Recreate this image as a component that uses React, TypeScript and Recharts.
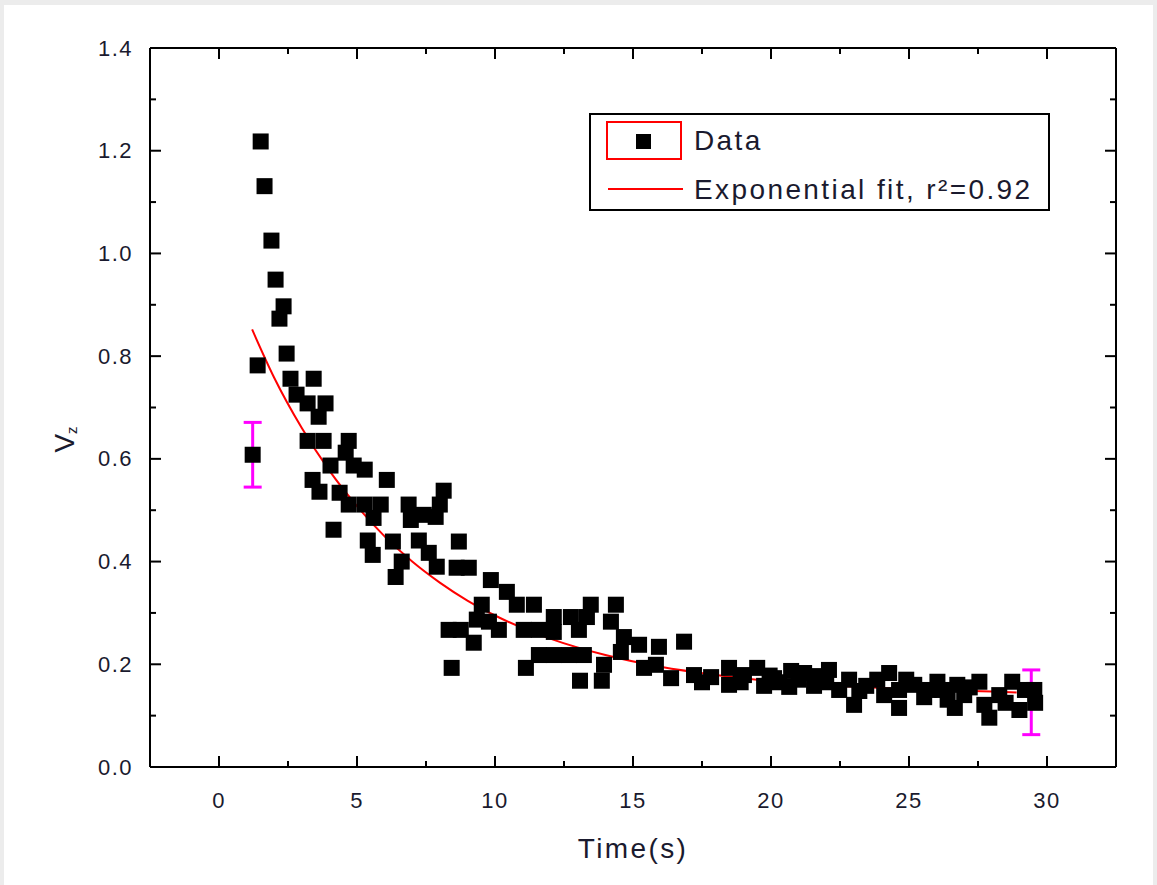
import { ComposedChart, Scatter, Line, XAxis, YAxis, ErrorBar, Legend, Label } from 'recharts';

const dataTime = [
  1.22, 1.40, 1.51, 1.65, 1.90, 2.05, 2.19, 2.34, 2.45, 2.59, 2.81, 3.21, 3.21, 3.39, 3.43, 3.61, 3.64, 3.79, 3.86,
  4.04, 4.15, 4.37, 4.59, 4.70, 4.70, 4.88, 5.28, 5.28, 5.39, 5.57, 5.60, 5.86, 6.08, 6.30, 6.40, 6.62, 6.87, 6.95,
  7.24, 7.42, 7.60, 7.85, 7.89, 8.00, 8.14, 8.32, 8.43, 8.61, 8.69, 8.76, 9.05, 9.23, 9.34, 9.52, 9.78, 9.85,
  10.14, 10.43, 10.79, 11.04, 11.12, 11.41, 11.59, 11.59, 12.13, 12.13, 12.13, 12.68, 12.75, 13.04, 13.08, 13.22,
  13.33, 13.47, 13.87, 13.95, 14.20, 14.38, 14.56, 14.67, 15.22, 15.40, 15.83, 15.94, 16.38, 16.85, 17.21, 17.50,
  17.83, 18.48, 18.48, 18.90, 19.02, 19.50, 19.75, 19.95, 20.11, 20.30, 20.66, 20.73, 21.00, 21.20, 21.56, 21.74,
  22.00, 22.10, 22.47, 22.83, 23.01, 23.20, 23.45, 23.85, 24.10, 24.28, 24.64, 24.64, 24.90, 25.19, 25.55, 25.73,
  26.03, 26.20, 26.40, 26.66, 26.75, 27.00, 27.20, 27.55, 27.73, 27.91, 28.27, 28.50, 28.74, 29.00, 29.20, 29.54,
  29.57,
];
const dataVz = [
  0.608, 0.782, 1.218, 1.131, 1.025, 0.949, 0.873, 0.897, 0.805, 0.756, 0.725, 0.708, 0.635, 0.559, 0.756, 0.682, 0.536, 0.635, 0.708,
  0.587, 0.462, 0.534, 0.612, 0.635, 0.511, 0.587, 0.579, 0.511, 0.441, 0.413, 0.485, 0.511, 0.559, 0.439, 0.370, 0.400, 0.511, 0.481,
  0.441, 0.491, 0.417, 0.487, 0.390, 0.511, 0.538, 0.267, 0.193, 0.388, 0.439, 0.267, 0.388, 0.242, 0.287, 0.316, 0.283, 0.364,
  0.267, 0.341, 0.316, 0.267, 0.193, 0.316, 0.267, 0.218, 0.292, 0.263, 0.218, 0.218, 0.292, 0.267, 0.168, 0.218,
  0.292, 0.316, 0.168, 0.199, 0.283, 0.316, 0.224, 0.253, 0.238, 0.193, 0.199, 0.234, 0.173, 0.244, 0.179, 0.165,
  0.175, 0.193, 0.160, 0.165, 0.179, 0.193, 0.158, 0.178, 0.173, 0.165, 0.156, 0.187, 0.170, 0.183, 0.158, 0.177,
  0.165, 0.189, 0.150, 0.170, 0.121, 0.148, 0.158, 0.170, 0.140, 0.183, 0.150, 0.115, 0.170, 0.160, 0.136, 0.150,
  0.166, 0.150, 0.131, 0.115, 0.160, 0.140, 0.155, 0.166, 0.121, 0.096, 0.140, 0.125, 0.166, 0.111, 0.150, 0.150,
  0.125,
];

// exponential fit curve
const fitTime = [1.2, 2, 3, 4, 5, 6, 7, 8, 9, 10, 12, 14, 16, 18, 20, 22, 24, 26, 28, 28.9];
const fitVz = [0.852, 0.758, 0.660, 0.577, 0.508, 0.449, 0.400, 0.359, 0.324, 0.295, 0.250, 0.218, 0.195, 0.179, 0.167, 0.159, 0.154, 0.150, 0.147, 0.145];

// magenta markers (data reader)
const markerTime = [1.22, 29.43];
const markerVz = [0.608, 0.126];
const markerErr = [0.063, 0.063];

const xTicks = [0, 2.5, 5, 7.5, 10, 12.5, 15, 17.5, 20, 22.5, 25, 27.5, 30];
const yTicks = [0, 0.1, 0.2, 0.3, 0.4, 0.5, 0.6, 0.7, 0.8, 0.9, 1.0, 1.1, 1.2, 1.3, 1.4];

const scatterData = dataTime.map((t, i) => ({ t, v: dataVz[i] }));
const fitData = fitTime.map((t, i) => ({ t, v: fitVz[i] }));
const markerData = markerTime.map((t, i) => ({ t, v: markerVz[i], err: markerErr[i] }));

const FONT = '"Liberation Sans", Arial, sans-serif';
const TXT = '#1a1a2e';

const isMajorX = (v: number) => Math.abs(v % 5) < 1e-6;
const isMajorY = (v: number) => Math.round(v * 10) % 2 === 0;

const BottomTick = (props: any) => {
  const { x, y, payload } = props;
  const major = isMajorX(payload.value);
  return (
    <g>
      <line x1={x} y1={y} x2={x} y2={y - (major ? 11 : 6)} stroke="#000" strokeWidth={2} />
      {major && (
        <text x={x} y={y + 33} textAnchor="middle" dominantBaseline="central" fontFamily={FONT} fontSize={22} letterSpacing={1.5} fill={TXT}>
          {payload.value}
        </text>
      )}
    </g>
  );
};

const TopTick = (props: any) => {
  const { x, y, payload } = props;
  const major = isMajorX(payload.value);
  return <line x1={x} y1={y} x2={x} y2={y + (major ? 11 : 6)} stroke="#000" strokeWidth={2} />;
};

const LeftTick = (props: any) => {
  const { x, y, payload } = props;
  const major = isMajorY(payload.value);
  return (
    <g>
      <line x1={x} y1={y} x2={x + (major ? 11 : 6)} y2={y} stroke="#000" strokeWidth={2} />
      {major && (
        <text x={x - 17} y={y} textAnchor="end" dominantBaseline="central" fontFamily={FONT} fontSize={22} letterSpacing={1.5} fill={TXT}>
          {payload.value.toFixed(1)}
        </text>
      )}
    </g>
  );
};

const RightTick = (props: any) => {
  const { x, y, payload } = props;
  const major = isMajorY(payload.value);
  return <line x1={x} y1={y} x2={x - (major ? 11 : 6)} y2={y} stroke="#000" strokeWidth={2} />;
};

const renderLegend = (props: any) => {
  const items = (props.payload || []).filter((e: any) => e.type !== 'none');
  return (
    <div style={{ width: 457, height: 94, border: '2px solid #000', background: '#fff', position: 'relative', fontFamily: FONT, fontSize: 28, letterSpacing: 2.4, color: TXT }}>
      {items.map((e: any, i: number) => (
        <div key={i} style={{ position: 'absolute', left: 0, top: i === 0 ? 6 : 55, width: '100%', height: 40 }}>
          {e.type === 'square' ? (
            <div style={{ position: 'absolute', left: 15, top: 0, width: 72, height: 35, border: '2px solid #ff0000' }}>
              <div style={{ position: 'absolute', left: 28, top: 11, width: 15, height: 15, background: '#000' }} />
            </div>
          ) : (
            <div style={{ position: 'absolute', left: 17, top: 18, width: 75, height: 2, background: '#ff0000' }} />
          )}
          <span style={{ position: 'absolute', left: 103, top: 20, transform: 'translateY(-50%)', whiteSpace: 'nowrap', lineHeight: 1 }}>{e.value}</span>
        </div>
      ))}
    </div>
  );
};

export default function App() {
  return (
    <div style={{ position: 'absolute', left: 0, top: 0, width: 1157, height: 885, background: '#ececec' }}>
      <div style={{ position: 'absolute', left: 4, top: 5, width: 1149, height: 880, background: '#fff' }}>
        <ComposedChart width={1149} height={880} margin={{ top: 42, right: 36, bottom: 38, left: 0 }}>
          <XAxis
            dataKey="t"
            type="number"
            domain={[-2.5, 32.5]}
            ticks={xTicks}
            interval={0}
            height={80}
            tickSize={0}
            tickMargin={0}
            tickLine={false}
            axisLine={{ stroke: '#000', strokeWidth: 2 }}
            tick={<BottomTick />}
            allowDataOverflow
          >
            <Label
              content={(p: any) => {
                const vb = p.viewBox;
                return (
                  <text x={vb.x + vb.width / 2} y={vb.y + 81} textAnchor="middle" dominantBaseline="central" fontFamily={FONT} fontSize={28} letterSpacing={2.4} fill={TXT}>
                    Time(s)
                  </text>
                );
              }}
            />
          </XAxis>
          <XAxis
            xAxisId="top"
            orientation="top"
            dataKey="t"
            type="number"
            domain={[-2.5, 32.5]}
            ticks={xTicks}
            interval={0}
            height={1}
            tickSize={0}
            tickMargin={0}
            tickLine={false}
            axisLine={{ stroke: '#000', strokeWidth: 2 }}
            tick={<TopTick />}
            allowDataOverflow
          />
          <YAxis
            dataKey="v"
            type="number"
            domain={[0, 1.4]}
            ticks={yTicks}
            interval={0}
            width={146}
            tickSize={0}
            tickMargin={0}
            tickLine={false}
            axisLine={{ stroke: '#000', strokeWidth: 2 }}
            tick={<LeftTick />}
            allowDataOverflow
          >
            <Label
              content={(p: any) => {
                const vb = p.viewBox;
                const cx = vb.x + 60;
                const cy = vb.y + vb.height / 2 + 32;
                return (
                  <text x={cx} y={cy} transform={`rotate(-90 ${cx} ${cy})`} textAnchor="middle" dominantBaseline="central" fontFamily={FONT} fontSize={28} fill={TXT}>
                    <tspan>V</tspan>
                    <tspan fontSize={15} dy={7}>z</tspan>
                  </text>
                );
              }}
            />
          </YAxis>
          <YAxis
            yAxisId="right"
            orientation="right"
            dataKey="v"
            type="number"
            domain={[0, 1.4]}
            ticks={yTicks}
            interval={0}
            width={1}
            tickSize={0}
            tickMargin={0}
            tickLine={false}
            axisLine={{ stroke: '#000', strokeWidth: 2 }}
            tick={<RightTick />}
            allowDataOverflow
          />
          <Scatter
            name="Data"
            data={scatterData}
            legendType="square"
            isAnimationActive={false}
            shape={(p: any) => <rect x={p.cx - 8} y={p.cy - 8} width={16} height={16} fill="#000" />}
          />
          <Scatter
            name="marker"
            data={markerData}
            xAxisId="top"
            yAxisId="right"
            legendType="none"
            isAnimationActive={false}
            shape={() => <g />}
          >
            <ErrorBar dataKey="err" direction="y" width={9} stroke="#ff00ff" strokeWidth={3} isAnimationActive={false} />
          </Scatter>
          <Line
            name="Exponential fit, r²=0.92"
            data={fitData}
            dataKey="v"
            type="monotone"
            stroke="#ff0000"
            strokeWidth={2}
            dot={false}
            legendType="line"
            isAnimationActive={false}
          />
          <Legend
            layout="vertical"
            align="center"
            verticalAlign="middle"
            wrapperStyle={{ left: 585, top: 108 }}
            content={renderLegend}
          />
        </ComposedChart>
      </div>
    </div>
  );
}
